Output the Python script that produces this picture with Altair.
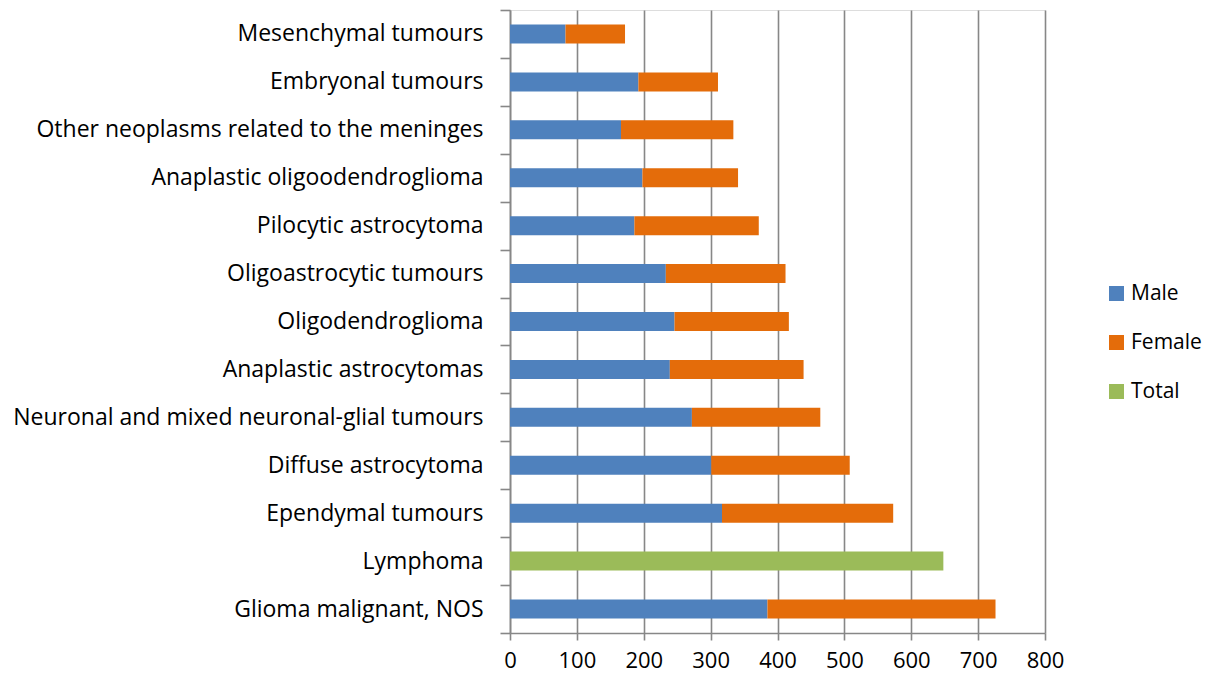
import altair as alt
import pandas as pd

categories = [
    "Mesenchymal tumours",
    "Embryonal tumours",
    "Other neoplasms related to the meninges",
    "Anaplastic oligoodendroglioma",
    "Pilocytic astrocytoma",
    "Oligoastrocytic tumours",
    "Oligodendroglioma",
    "Anaplastic astrocytomas",
    "Neuronal and mixed neuronal-glial tumours",
    "Diffuse astrocytoma",
    "Ependymal tumours",
    "Lymphoma",
    "Glioma malignant, NOS",
]
male = [83, 192, 166, 198, 186, 233, 246, 239, 272, 301, 317, None, 385]
female = [89, 119, 168, 143, 186, 179, 171, 200, 192, 207, 256, None, 341]
total = [None, None, None, None, None, None, None, None, None, None, None, 648, None]

series_names = ["Male", "Female", "Total"]
colors = ["#4F81BD", "#E46C0A", "#9BBB59"]

rows = []
for i, c in enumerate(categories):
    for s, vals in zip(series_names, [male, female, total]):
        if vals[i] is not None:
            rows.append({"category": c, "series": s, "value": vals[i], "ord": series_names.index(s)})
df = pd.DataFrame(rows)

font = "Open Sans"
gray = "#878787"

chart = alt.Chart(df).mark_bar(size=19).encode(
    y=alt.Y("category:N", sort=categories, title=None,
            scale=alt.Scale(paddingInner=0, paddingOuter=0),
            axis=alt.Axis(labelFontSize=23, labelFont=font, labelColor="#000000",
                          labelPadding=17, tickSize=10, tickColor=gray,
                          domainColor=gray, domainWidth=1.6, tickWidth=1.6,
                          tickBand="extent", grid=False, labelLimit=600)),
    x=alt.X("value:Q", stack="zero", title=None,
            scale=alt.Scale(domain=[0, 800], nice=False),
            axis=alt.Axis(values=list(range(0, 801, 100)), labelFontSize=22, labelFont=font,
                          labelColor="#000000", labelBaseline="alphabetic",
                          labelPadding=27, tickSize=7, labelFlush=False,
                          tickColor=gray, domainColor=gray, domainWidth=1.6,
                          tickWidth=1.6, gridColor=gray, gridWidth=1.6, grid=True)),
    color=alt.Color("series:N", scale=alt.Scale(domain=series_names, range=colors),
                    legend=alt.Legend(title=None, orient="none", legendX=596, legendY=273,
                                      symbolType="square", symbolSize=225,
                                      symbolStrokeWidth=0, labelFontSize=21, labelFont=font,
                                      labelColor="#000000", rowPadding=27, labelOffset=4)),
    order=alt.Order("ord:Q"),
).properties(
    width=535, height=623,
    autosize=alt.AutoSizeParams(type="none"),
    padding={"left": 502, "top": 2, "right": 162, "bottom": 40},
).configure_view(stroke=None).configure(background="white")

chart.save("out.html", embed_options={"renderer": "svg", "actions": False})
